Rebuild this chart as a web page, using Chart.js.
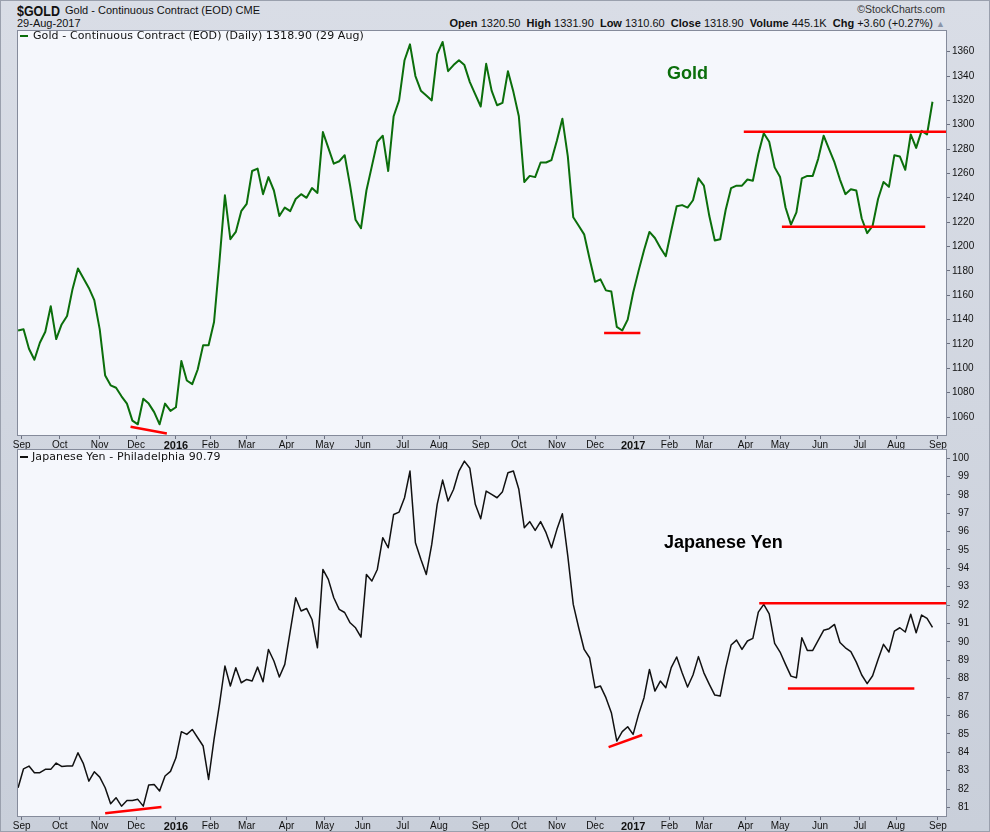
<!DOCTYPE html>
<html>
<head>
<meta charset="utf-8">
<title>$GOLD vs Japanese Yen</title>
<script src="https://cdn.jsdelivr.net/npm/chart.js@4.4.0/dist/chart.umd.min.js"></script>
<style>
    html, body { margin: 0; padding: 0; }
    body {
        width: 990px; height: 832px; overflow: hidden; position: relative;
        background: linear-gradient(#d9dde6, #c9cfda);
        font-family: "Liberation Sans", Arial, sans-serif; color: #111;
        box-sizing: border-box; border: 1px solid #9aa0ad;
    }
    .abs { position: absolute; white-space: nowrap; }
    canvas { position: absolute; left: 0; }
    .legend { font-family: "DejaVu Sans", sans-serif; font-size: 11px; line-height: 12px; letter-spacing: 0.1px; color: #111; }
    .dash { position: absolute; width: 8px; height: 2px; }
    .big { font-weight: bold; font-size: 18px; line-height: 18px; }
</style>
</head>
<body>
<div class="abs" style="left:16px;top:1px;font-weight:bold;font-size:15px;transform:scaleX(0.83);transform-origin:0 0">$GOLD</div>
<div class="abs" style="left:64px;top:3px;font-size:11px">Gold - Continuous Contract (EOD) CME</div>
<div class="abs" style="left:16px;top:16px;font-size:11px">29-Aug-2017</div>
<div class="abs" style="right:44px;top:2px;font-size:10.5px;color:#333">&copy;StockCharts.com</div>
<div class="abs" style="right:44px;top:16px;font-size:11px"><b>Open</b> 1320.50 &nbsp;<b>High</b> 1331.90 &nbsp;<b>Low</b> 1310.60 &nbsp;<b>Close</b> 1318.90 &nbsp;<b>Volume</b> 445.1K &nbsp;<b>Chg</b> +3.60 (+0.27%) <span style="color:#8a94a8;font-size:9px">&#9650;</span></div>

<canvas id="goldChart" width="990" height="419" style="top:29px"></canvas>
<canvas id="yenChart" width="990" height="384" style="top:448px"></canvas>

<div class="dash" style="left:19px;top:34px;background:#0b6e0b"></div>
<div class="abs legend" style="left:32px;top:29px">Gold - Continuous Contract (EOD) (Daily) 1318.90 (29 Aug)</div>
<div class="abs big" style="left:666px;top:63px;color:#0b6e0b">Gold</div>

<div class="dash" style="left:19px;top:455px;background:#111"></div>
<div class="abs legend" style="left:31px;top:450px">Japanese Yen - Philadelphia 90.79</div>
<div class="abs big" style="left:663px;top:532px;color:#000">Japanese Yen</div>

<script>
// month axis: labels and number of trading sessions in each month
// (first entry = last two sessions of Aug 2015)
const monthLabels = ['Sep','Oct','Nov','Dec','2016','Feb','Mar','Apr','May','Jun','Jul','Aug',
                     'Sep','Oct','Nov','Dec','2017','Feb','Mar','Apr','May','Jun','Jul','Aug','Sep'];
const monthSessions = [2,21,22,20,22,19,20,22,21,21,22,20,23,21,21,21,21,20,19,23,19,22,22,20,23];

// closes read every 3rd session, 28-Aug-2015 .. 29-Aug-2017
const sampleStep = 3;
const goldClose = [
    1131,1132,1116,1107,1121,1130,1151,1124,1136,1143,
    1165,1182,1174,1166,1156,1132,1094,1086,1084,1077,
    1071,1057,1054,1075,1071,1064,1054,1071,1065,1068,
    1106,1090,1087,1099,1119,1119,1138,1188,1242,1206,
    1212,1229,1235,1262,1264,1243,1257,1246,1225,1232,
    1229,1239,1243,1240,1248,1244,1294,1281,1268,1270,
    1275,1250,1222,1215,1246,1266,1286,1291,1262,1307,
    1320,1353,1366,1340,1328,1324,1320,1358,1368,1344,
    1349,1353,1349,1335,1325,1315,
    1350,1328,1316,1318,1344,1327,1307,1253,1258,1257,
    1269,1269,1271,1287,1305,1274,1224,1217,1210,1190,
    1171,1173,1164,1163,1134,1131,1140,1162,1180,1197,
    1212,1207,1199,1192,1213,1233,1234,1232,1238,1256,
    1250,1225,1205,1206,1230,1248,1250,1250,1255,1254,
    1276,1293,1286,1265,1257,1232,1218,1228,1256,1258,
    1258,1272,1291,1280,1269,1255,1243,1247,1246,1223,
    1211,1217,1239,1253,1249,1275,1274,1263,1292,1281,
    1295,1292,1318.9
];
const yenClose = [
    82.07,83.1,83.25,82.89,82.89,83.07,83.07,83.41,83.23,83.25,
    83.25,83.97,83.38,82.43,82.94,82.65,82.07,81.2,81.53,81.07,
    81.38,81.38,81.44,81.07,82.22,82.25,81.89,82.71,82.96,83.7,
    85.12,84.97,85.24,84.79,84.34,82.52,84.7,86.6,88.69,87.6,
    88.6,87.78,87.96,87.87,88.63,87.83,89.59,88.96,88.09,88.78,
    90.59,92.4,91.68,91.82,91.22,89.68,93.94,93.4,92.4,91.77,
    91.6,91.04,90.77,90.26,93.67,93.31,93.94,95.67,95.12,96.93,
    97.06,97.84,99.29,95.39,94.49,93.67,95.3,97.48,98.8,97.66,
    98.29,99.29,99.83,99.44,97.48,96.7,
    98.2,98.02,97.84,98.17,99.2,99.29,98.3,96.21,96.54,96.06,
    96.54,95.94,95.12,96.12,96.97,94.67,92.04,90.77,89.59,89.14,
    87.51,87.6,86.97,86.15,84.61,85.12,85.39,84.97,86.06,86.97,
    88.5,87.33,87.87,87.51,88.6,89.18,88.32,87.55,88.2,89.2,
    88.32,87.69,87.11,87.06,88.56,89.83,90.1,89.59,90.05,90.19,
    91.62,92.04,91.53,89.92,89.45,88.78,88.14,88.05,90.23,89.54,
    89.54,90.08,90.63,90.72,90.95,89.97,89.68,89.47,88.9,88.2,
    87.73,88.16,89.05,89.87,89.45,90.59,90.77,90.54,91.5,90.5,
    91.46,91.28,90.79
];

// hand-drawn trend lines: [start session, end session] and [start value, end value]
const goldTrendSessions = [[62, 82], [323, 343], [400, 512], [421, 500]];
const goldTrendValues   = [[1052, 1046.5], [1129, 1129], [1294.3, 1294.3], [1216.3, 1216.3]];
const yenTrendSessions  = [[48, 79], [325.5, 344], [408.5, 512], [424.3, 494]];
const yenTrendValues    = [[80.69, 81.02], [84.28, 84.94], [92.1, 92.1], [87.47, 87.47]];

const goldTicks = { min: 1044.4, max: 1377.8, step: 20 };
const yenTicks  = { min: 80.48, max: 100.49, step: 1 };
const sessionRange = [-0.6, 512];

const monthStarts = [];
monthSessions.reduce((acc, n) => { acc += n; monthStarts.push(acc); return acc; }, 0);

const panelBg = '#f5f7fc';
const frameColor = '#858b9b';
const axisFont = 'Liberation Sans';

const plotFrame = {
    id: 'plotFrame',
    beforeDraw(chart) {
        const a = chart.chartArea, c = chart.ctx;
        c.save();
        c.fillStyle = panelBg;
        c.fillRect(a.left, a.top, a.right - a.left, a.bottom - a.top);
        c.restore();
    },
    afterDraw(chart) {
        const a = chart.chartArea, c = chart.ctx;
        c.save();
        c.strokeStyle = frameColor;
        c.lineWidth = 1;
        c.strokeRect(a.left + 0.5, a.top + 0.5, a.right - a.left - 1, a.bottom - a.top - 1);
        c.restore();
    }
};

function priceSeries(values, color, width) {
    return {
        data: values.map((v, k) => ({ x: k * sampleStep, y: v })),
        borderColor: color,
        borderWidth: width,
        pointRadius: 0,
        tension: 0,
        borderJoinStyle: 'round',
        order: 1
    };
}

function trendSeries(sessions, values) {
    return sessions.map((s, k) => ({
        data: [{ x: s[0], y: values[k][0] }, { x: s[1], y: values[k][1] }],
        borderColor: '#ff0000',
        borderWidth: 2.5,
        pointRadius: 0,
        order: 0
    }));
}

// keep the plot box exactly where the layout padding puts it
function noEdgePadding(s) {
    s.paddingTop = 0; s.paddingBottom = 0; s.paddingLeft = 0; s.paddingRight = 0;
}

function buildPanel(canvasId, series, trend, yTicks, opts) {
    const ctx = document.getElementById(canvasId).getContext('2d');
    return new Chart(ctx, {
        type: 'line',
        data: { datasets: [series].concat(trend) },
        options: {
            responsive: false,
            animation: false,
            devicePixelRatio: 1,
            parsing: false,
            layout: { padding: { left: 16, right: opts.rightPad, top: 0, bottom: 0 } },
            plugins: { legend: { display: false }, tooltip: { enabled: false } },
            scales: {
                x: {
                    type: 'linear',
                    min: sessionRange[0],
                    max: sessionRange[1],
                    afterBuildTicks: s => { s.ticks = monthStarts.map(v => ({ value: v })); },
                    afterFit: s => { s.height = opts.xHeight; noEdgePadding(s); },
                    border: { display: false },
                    grid: { drawOnChartArea: false, drawTicks: true, tickLength: 3, color: '#6b7080' },
                    ticks: {
                        autoSkip: false,
                        maxRotation: 0,
                        padding: 0,
                        color: '#111',
                        callback: (v, i) => monthLabels[i],
                        font: c => {
                            const isYear = /^\d{4}$/.test(monthLabels[c.index]);
                            return { family: axisFont, size: isYear ? 11 : 10, weight: isYear ? 'bold' : 'normal' };
                        }
                    }
                },
                y: {
                    position: 'right',
                    min: yTicks.min,
                    max: yTicks.max,
                    afterFit: s => { s.width = opts.yWidth; noEdgePadding(s); },
                    border: { display: false },
                    grid: { drawOnChartArea: false, drawTicks: true, tickLength: 3, color: '#6b7080' },
                    ticks: {
                        stepSize: yTicks.step,
                        includeBounds: false,
                        crossAlign: opts.crossAlign,
                        padding: 2,
                        color: '#111',
                        font: { family: axisFont, size: 10 },
                        callback: v => String(v)
                    }
                }
            }
        },
        plugins: [plotFrame]
    });
}

buildPanel('goldChart', priceSeries(goldClose, '#0b6e0b', 2),
    trendSeries(goldTrendSessions, goldTrendValues), goldTicks,
    { rightPad: 0, yWidth: 44, xHeight: 13, crossAlign: 'near' });

buildPanel('yenChart', priceSeries(yenClose, '#111111', 1.5),
    trendSeries(yenTrendSessions, yenTrendValues), yenTicks,
    { rightPad: 22, yWidth: 22, xHeight: 16, crossAlign: 'far' });
</script>
</body>
</html>
